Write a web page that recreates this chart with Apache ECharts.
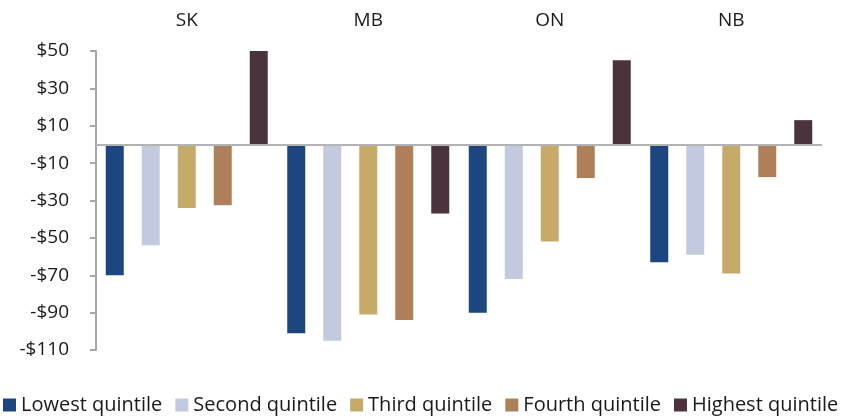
<!DOCTYPE html>
<html>
<head>
<meta charset="utf-8">
<script src="https://cdn.jsdelivr.net/npm/echarts@6/dist/echarts.min.js"></script>
<style>
  html, body { margin: 0; padding: 0; background: #ffffff; }
  #chart { width: 854px; height: 419px; }
</style>
</head>
<body>
<div id="chart"></div>
<script>
// Provinces shown along the top
const provinces = ['SK', 'MB', 'ON', 'NB'];

// Change in dollars by income quintile, per province
const lowestQuintile  = [-70, -101, -90, -63];
const secondQuintile  = [-54, -105, -72, -59];
const thirdQuintile   = [-34, -91, -52, -69];
const fourthQuintile  = [-32.5, -94, -18, -17.5];
const highestQuintile = [50, -37, 45, 13];

const quintileNames = ['Lowest quintile', 'Second quintile', 'Third quintile', 'Fourth quintile', 'Highest quintile'];
const quintileColors = ['#1d4580', '#c3c9df', '#c6aa6a', '#ad805a', '#4a333c'];

// Value axis range and labelled ticks
const yMin = -110;
const yMax = 50;
const yTicks = [-110, -90, -70, -50, -30, -10, 10, 30, 50];

const fontFamily = '"Open Sans", "Noto Sans", sans-serif';
const chart = echarts.init(document.getElementById('chart'), null, { renderer: 'canvas' });

const seriesData = [lowestQuintile, secondQuintile, thirdQuintile, fourthQuintile, highestQuintile];

const series = seriesData.map((values, i) => ({
  name: quintileNames[i],
  type: 'bar',
  data: values,
  barWidth: 18,
  barGap: '100%',
  itemStyle: { color: quintileColors[i] },
  animation: false
}));

// Zero baseline across the plot
series[0].markLine = {
  silent: true,
  symbol: ['none', 'none'],
  label: { show: false },
  lineStyle: { color: '#b3b3b3', width: 2, type: 'solid' },
  data: [{ yAxis: 0 }],
  animation: false
};

chart.setOption({
  backgroundColor: '#ffffff',
  animation: false,
  textStyle: { fontFamily: fontFamily },
  grid: { left: 96, right: 32, top: 51, bottom: 69, containLabel: false },
  legend: {
    top: 395,
    left: 3,
    padding: 0,
    itemWidth: 13,
    itemHeight: 13,
    itemGap: 13,
    icon: 'rect',
    textStyle: { fontSize: 20, color: '#1a1a1a', fontFamily: fontFamily, padding: [0, 0, 0, 0] },
    data: quintileNames
  },
  xAxis: {
    type: 'category',
    data: provinces,
    position: 'top',
    axisLine: { show: false },
    axisTick: { show: false },
    axisLabel: { fontSize: 19, color: '#1a1a1a', margin: 21, fontFamily: fontFamily },
    splitLine: { show: false }
  },
  yAxis: {
    type: 'value',
    min: yMin,
    max: yMax,
    axisLine: { show: true, lineStyle: { color: '#a6a6a6', width: 2 } },
    axisTick: { show: true, length: 6, lineStyle: { color: '#a6a6a6', width: 2 }, customValues: yTicks },
    axisLabel: {
      fontSize: 19,
      color: '#1a1a1a',
      margin: 27,
      fontFamily: fontFamily,
      customValues: yTicks,
      formatter: v => (v < 0 ? '-$' + Math.abs(v) : '$' + v)
    },
    splitLine: { show: false }
  },
  series: series
});
</script>
</body>
</html>
